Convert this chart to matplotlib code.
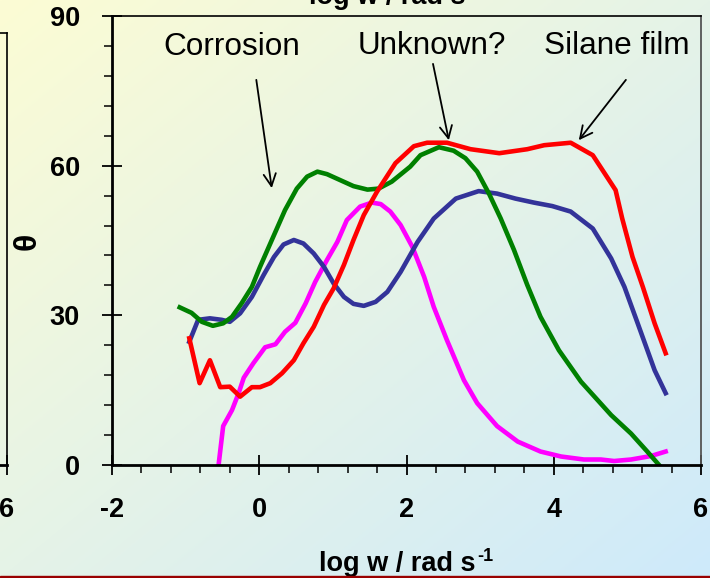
import numpy as np
import matplotlib
matplotlib.use('Agg')
import matplotlib.pyplot as plt
from matplotlib.ticker import MultipleLocator
from matplotlib.patches import Rectangle

plt.rcParams['font.family'] = ['Liberation Sans', 'DejaVu Sans']
plt.rcParams['axes.unicode_minus'] = False

# phase angle vs log frequency
red_x = [-0.95, -0.81, -0.67, -0.53, -0.40, -0.26, -0.10, 0.01, 0.15, 0.31, 0.47, 0.60, 0.74, 0.88,
         1.01, 1.15, 1.28, 1.42, 1.60, 1.85, 2.10, 2.28, 2.55, 2.87, 3.26, 3.64, 3.87, 4.23, 4.53,
         4.84, 4.93, 5.07, 5.21, 5.37, 5.52]
red_y = [25.4, 16.4, 21.0, 15.6, 15.7, 13.7, 15.6, 15.6, 16.4, 18.4, 21.0, 24.4, 27.7, 32.1,
         35.4, 40.1, 45.1, 50.1, 54.8, 60.5, 63.9, 64.6, 64.6, 63.3, 62.5, 63.3, 64.1, 64.6, 62.1,
         55.1, 49.4, 41.7, 35.7, 28.4, 22.4]

green_x = [-1.08, -0.92, -0.78, -0.63, -0.49, -0.37, -0.24, -0.10, 0.01, 0.15, 0.35, 0.51, 0.65,
           0.79, 0.92, 1.10, 1.28, 1.47, 1.62, 1.80, 2.05, 2.19, 2.44, 2.64, 2.80, 2.96, 3.12, 3.28,
           3.46, 3.64, 3.82, 4.07, 4.37, 4.78, 5.05, 5.27, 5.43]
green_y = [31.6, 30.5, 28.7, 27.9, 28.4, 29.7, 32.4, 35.7, 39.7, 44.4, 51.1, 55.4, 57.8,
           58.8, 58.3, 57.1, 55.9, 55.2, 55.4, 56.8, 59.8, 62.1, 63.7, 63.0, 61.5, 58.8, 54.4, 49.4,
           43.1, 36.1, 29.7, 23.0, 16.7, 10.0, 6.3, 2.7, 0.0]

blue_x = [-0.95, -0.83, -0.67, -0.51, -0.40, -0.26, -0.10, 0.06, 0.20, 0.33, 0.47, 0.60, 0.74,
          0.88, 1.01, 1.15, 1.28, 1.42, 1.58, 1.74, 1.92, 2.15, 2.37, 2.67, 2.98, 3.23, 3.48, 3.73,
          3.98, 4.23, 4.53, 4.78, 4.96, 5.14, 5.37, 5.52]
blue_y = [24.7, 29.1, 29.4, 29.1, 28.7, 30.4, 33.7, 38.1, 41.7, 44.2, 45.1, 44.4, 42.4,
          39.7, 36.4, 33.7, 32.3, 31.9, 32.7, 34.7, 38.7, 44.7, 49.4, 53.4, 54.9, 54.4, 53.4, 52.6,
          51.9, 50.8, 47.4, 41.4, 35.7, 28.4, 19.0, 14.4]

magenta_x = [-0.55, -0.49, -0.37, -0.28, -0.21, -0.08, 0.08, 0.22, 0.35, 0.49, 0.63, 0.76, 0.92,
             1.06, 1.19, 1.37, 1.53, 1.65, 1.78, 1.92, 2.08, 2.24, 2.37, 2.55, 2.78, 2.96, 3.23,
             3.51, 3.82, 4.10, 4.41, 4.64, 4.82, 5.05, 5.32, 5.52]
magenta_y = [0.3, 7.8, 11.0, 14.4, 17.5, 20.4, 23.6, 24.2, 26.7, 28.5, 32.4, 36.7, 41.1,
             44.7, 49.1, 51.8, 52.6, 52.3, 50.8, 48.1, 43.7, 37.7, 31.7, 25.0, 17.0, 12.4, 7.8,
             4.7, 2.7, 1.7, 1.1, 1.1, 0.8, 1.1, 1.8, 2.7]

labels = ['Corrosion', 'Unknown?', 'Silane film']
label_pos = [(-0.37, 83.8), (2.34, 84.0), (4.86, 84.0)]
arrow_from = [(-0.04, 77.2), (2.36, 80.4), (4.98, 77.2)]
arrow_to = [(0.17, 55.5), (2.575, 65.1), (4.34, 65.1)]

W, H = 710, 578
fig = plt.figure(figsize=(W / 100, H / 100), dpi=100)

# diagonal yellow -> blue background
bg = fig.add_axes([0, 0, 1, 1], zorder=-10)
gx, gy = np.meshgrid(np.linspace(0, 1, 200), np.linspace(0, 1, 200))
t = (gx + gy) / 2
c0 = np.array([252, 252, 212]) / 255
c1 = np.array([206, 234, 251]) / 255
img = c0[None, None, :] * (1 - t[..., None]) + c1[None, None, :] * t[..., None]
bg.imshow(img, aspect='auto', extent=[0, 1, 0, 1], origin='upper')
bg.axis('off')

fig.patches.append(Rectangle((0, 0), 1, 2 / H, transform=fig.transFigure,
                             color='#990000', zorder=5))

bold = dict(fontsize=19.5, fontweight='bold')

# neighbouring panel on the left, mostly outside the figure
lax = fig.add_axes([7 / W - 0.5, 113 / H, 0.5, 432 / H])
lax.patch.set_alpha(0)
lax.set_xlim(-2, 6)
lax.set_xticks([6])
lax.set_xticklabels(['6'], **bold)
lax.set_yticks([])
lax.tick_params(axis='x', direction='inout', length=14, width=1.3, pad=16)
lax.spines['bottom'].set_linewidth(2)
lax.spines['right'].set_linewidth(1.2)
lax.spines['top'].set_linewidth(1.2)

ax = fig.add_axes([112 / W, 113 / H, 589 / W, 449 / H])
ax.patch.set_alpha(0)

ax.plot(magenta_x, magenta_y, color='#ff00ff', lw=3.3)
ax.plot(blue_x, blue_y, color='#333399', lw=3.3)
ax.plot(green_x, green_y, color='#008000', lw=3.3)
ax.plot(red_x, red_y, color='#ff0000', lw=3.3)

ax.set_xlim(-2, 6)
ax.set_ylim(0, 90)
ax.xaxis.set_major_locator(MultipleLocator(2))
ax.xaxis.set_minor_locator(MultipleLocator(0.4))
ax.yaxis.set_major_locator(MultipleLocator(30))
ax.yaxis.set_minor_locator(MultipleLocator(6))
ax.tick_params(which='major', direction='inout', length=14, width=1.3, pad=16, labelsize=19.5)
ax.tick_params(which='minor', direction='out', length=6, width=1.1)
for lab in ax.get_xticklabels() + ax.get_yticklabels():
    lab.set_fontweight('bold')

ax.spines['left'].set_linewidth(2)
ax.spines['bottom'].set_linewidth(2)
ax.spines['top'].set_linewidth(1.2)
ax.spines['right'].set_linewidth(1.3)
ax.spines['right'].set_color('#555555')

for text, pos, p0, p1 in zip(labels, label_pos, arrow_from, arrow_to):
    ax.text(pos[0], pos[1], text, fontsize=22.7, ha='center', va='center')
    ax.annotate('', xy=p1, xytext=p0,
                arrowprops=dict(arrowstyle='->', lw=1.3, color='black',
                                mutation_scale=22, shrinkA=0, shrinkB=0))

fig.text(28 / W, 1 - 241 / H, '\u03b8', rotation=90, ha='center', va='center',
         fontsize=23, fontweight='bold')


def axis_title(x_px, base_px):
    # "log w / rad s" with a raised "-1"
    main = fig.text(x_px / W, 1 - base_px / H, 'log w / rad s', ha='center', va='baseline', **bold)
    fig.canvas.draw()
    bb = main.get_window_extent()
    fig.text((bb.x1 + 2) / W, (H - base_px + 10) / H, '-1', ha='left', va='baseline',
             fontsize=13, fontweight='bold')


axis_title(397, 571)
# axis title of the panel above, cut off at the top edge
axis_title(387, 4)

fig.savefig('out.png', dpi=100)
